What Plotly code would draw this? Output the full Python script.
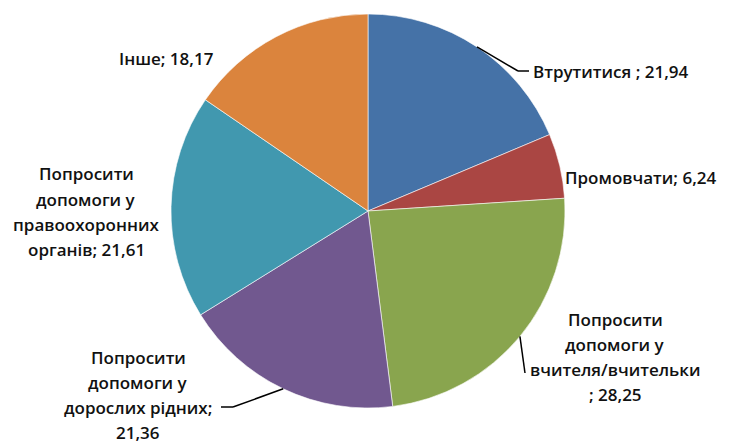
import math
import plotly.graph_objects as go

# ---- data ----
categories = [
    "Втрутитися",
    "Промовчати",
    "Попросити допомоги у вчителя/вчительки",
    "Попросити допомоги у дорослих рідних",
    "Попросити допомоги у правоохоронних органів",
    "Інше",
]
values = [21.94, 6.24, 28.25, 21.36, 21.61, 18.17]
colors = ["#4572A7", "#AA4643", "#89A54E", "#71588F", "#4198AF", "#DB843D"]

# label texts as displayed (line breaks as in the chart)
label_lines = [
    ["Втрутитися ; 21,94"],
    ["Промовчати; 6,24"],
    ["Попросити", "допомоги у", "вчителя/вчительки", "; 28,25"],
    ["Попросити", "допомоги у", "дорослих рідних;", "21,36"],
    ["Попросити", "допомоги у", "правоохоронних", "органів; 21,61"],
    ["Інше; 18,17"],
]

# ---- layout (pixels) ----
W, H = 731, 443
CX, CY, R = 368, 211, 197
LINE_H = 25.3
# label anchor: (x, y of first line, xanchor)
label_pos = [
    (531, 71, "left"),
    (563, 177, "left"),
    (615, 319, "center"),
    (138, 357, "center"),
    (86, 174, "center"),
    (117, 58, "left"),
]
# leader line elbow / end points (pixels); None = no leader
leaders = [
    [(518, 71), (529, 71)],
    None,
    [(525, 373)],
    [(233, 407), (221, 407)],
    None,
    None,
]

def px(x):
    return x / W

def py(y):
    return 1 - y / H

fig = go.Figure(go.Pie(
    labels=categories,
    values=values,
    sort=False,
    direction="clockwise",
    rotation=0,
    marker=dict(colors=colors, line=dict(color="white", width=0.6)),
    textinfo="none",
    hoverinfo="label+value",
    showlegend=False,
    domain=dict(x=[px(CX - R), px(CX + R)], y=[py(CY + R), py(CY - R)]),
))

FONT = dict(family="'Open Sans', Lato, sans-serif", size=17, color="#111111", weight=600)

annotations = []
for lines, (x, y, anchor) in zip(label_lines, label_pos):
    for i, t in enumerate(lines):
        annotations.append(dict(
            x=px(x), y=py(y + i * LINE_H), xref="paper", yref="paper",
            text=t, showarrow=False, xanchor=anchor, yanchor="middle",
            font=FONT,
        ))

shapes = []
total = sum(values)
cum = 0.0
for v, lead in zip(values, leaders):
    mid = (cum + v / 2) / total * 2 * math.pi
    cum += v
    if lead is None:
        continue
    sx = CX + R * math.sin(mid)
    sy = CY - R * math.cos(mid)
    pts = [(sx, sy)] + lead
    for (x0, y0), (x1, y1) in zip(pts[:-1], pts[1:]):
        shapes.append(dict(
            type="line", xref="paper", yref="paper",
            x0=px(x0), y0=py(y0), x1=px(x1), y1=py(y1),
            line=dict(color="black", width=1.5),
        ))

fig.update_layout(
    width=W, height=H,
    margin=dict(l=0, r=0, t=0, b=0),
    paper_bgcolor="white",
    plot_bgcolor="white",
    annotations=annotations,
    shapes=shapes,
)

fig.write_html(
    "out.html",
    config={"displayModeBar": False},
    post_script="document.body.style.margin='0';",
)
